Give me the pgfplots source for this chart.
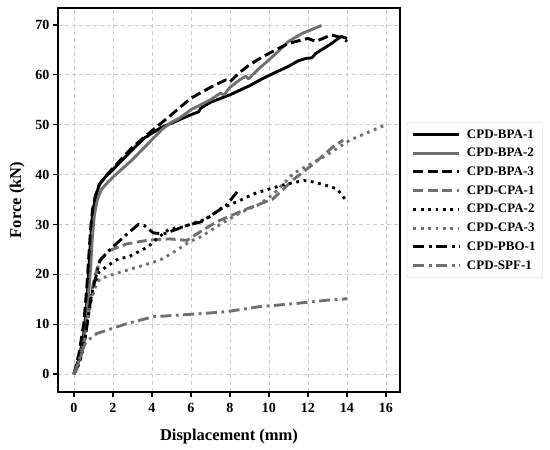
\documentclass[border=0pt]{standalone}
\usepackage{fontspec}
\setmainfont{Liberation Serif}
\usepackage{pgfplots}
\pgfplotsset{compat=1.18}
\definecolor{dgray}{RGB}{112,112,112}
\definecolor{gridc}{RGB}{205,205,205}
\begin{document}
\begin{tikzpicture}
\begin{axis}[
  scale only axis, width=342pt, height=384pt,
  xmin=-0.82, xmax=16.72, ymin=-3.6, ymax=73.4,
  xtick={0,2,...,16}, ytick={0,10,...,70},
  xtick pos=bottom, ytick pos=left, tick align=outside,
  major tick length=5pt,
  every tick/.style={black, line width=1.2pt},
  axis line style={line width=1.6pt},
  grid=major,
  major grid style={gridc, line width=0.8pt, dash pattern=on 4pt off 3pt},
  /pgf/number format/assume math mode=true,
  tick label style={font=\fontsize{14}{16}\selectfont\bfseries},
  xticklabel style={yshift=-3pt},
  label style={font=\fontsize{16.5}{18}\selectfont\bfseries},
  xlabel={Displacement (mm)}, ylabel={Force (kN)},
  xlabel style={yshift=-9pt},
  ylabel style={yshift=4pt},
  legend style={at={(1.02,0.5)}, anchor=west, draw=gridc, rounded corners=2pt,
    font=\fontsize{13}{15}\selectfont\bfseries, row sep=4.6pt, column sep=4pt,
    inner xsep=5pt, inner ysep=5pt},
  legend cell align=left,
  legend image code/.code={\draw[#1] (0pt,0pt) -- (46pt,0pt);},
  lw/.style={line width=2.9pt, line join=round},
]
% CPD-BPA-1
\addplot[black, solid, lw] coordinates {
(0,0)(0.25,3)(0.5,8)(0.65,14)(0.75,20)(0.85,27)(0.95,32)(1.1,35.5)(1.3,38)(1.6,39.5)(2,41)(2.5,43)(3,45)(3.6,47.3)(4,48.3)(4.5,49.5)(5,50.3)(5.4,51)(6,52)(6.4,52.6)(6.5,53.3)(7,54.5)(8,56)(9,57.8)(9.7,59.3)(10.5,60.8)(11,61.7)(11.5,62.8)(11.9,63.3)(12.2,63.4)(12.4,64.3)(13.1,66)(13.7,67.7)(14,67.3)
};
\addlegendentry{CPD-BPA-1}
% CPD-BPA-2
\addplot[dgray, solid, lw] coordinates {
(0,0)(0.3,3)(0.55,8)(0.7,14)(0.85,21)(0.95,28)(1.05,32)(1.2,35)(1.4,37)(1.7,38.3)(2,39.5)(3,43)(4,47)(4.5,49)(5,50.5)(5.4,51.3)(6,53)(7,55)(7.5,56.3)(7.7,56)(8,57.5)(8.5,59)(8.8,59.7)(8.95,59.2)(9.5,61.3)(10,63)(10.5,64.8)(11,66.7)(11.7,68.3)(12.7,69.9)
};
\addlegendentry{CPD-BPA-2}
% CPD-BPA-3
\addplot[black, lw, dash pattern=on 10pt off 4.5pt] coordinates {
(0,0)(0.25,4)(0.5,10)(0.65,17)(0.75,23)(0.85,29)(0.95,33)(1.1,35.8)(1.3,38)(1.6,39.6)(2,41.3)(3,45.5)(4,48.8)(5,52)(5.5,53.7)(6,55.3)(7,57.5)(7.8,59)(8,58.6)(8.5,60.5)(9,62)(9.7,63.7)(10.5,65.3)(11,66.3)(12,67.3)(12.4,66.7)(13.2,68)(13.7,67.5)(14,66.7)
};
\addlegendentry{CPD-BPA-3}
% CPD-CPA-1
\addplot[dgray, lw, dash pattern=on 10pt off 4.5pt] coordinates {
(0,0)(0.3,2.5)(0.56,7)(0.73,11.5)(0.9,16.5)(1.1,20)(1.3,22.5)(1.6,24)(1.85,24.8)(2.7,26.1)(3.9,26.9)(4.9,27.1)(5.8,26.8)(6.46,28.5)(7.3,30.5)(8.85,33.1)(10.2,35.1)(11.25,39)(12.27,42.1)(13.3,45.6)(13.8,46.9)
};
\addlegendentry{CPD-CPA-1}
% CPD-CPA-2
\addplot[black, lw, dash pattern=on 2.8pt off 4.6pt] coordinates {
(0,0)(0.3,2.5)(0.56,7)(0.73,11.5)(0.9,15.5)(1.1,18.5)(1.3,20.5)(1.76,21.8)(2.27,23.1)(2.8,23.5)(3.3,24.5)(3.8,25.5)(4.3,27.3)(4.9,29.1)(5.6,29.5)(6.3,30.5)(6.8,31.1)(7.5,33.1)(8.5,34.8)(9.2,36.1)(10,37.1)(10.9,38.1)(11.8,38.8)(12.3,38.5)(12.96,37.8)(13.5,37.1)(13.9,35.1)
};
\addlegendentry{CPD-CPA-2}
% CPD-CPA-3
\addplot[dgray, lw, dash pattern=on 2.8pt off 4.6pt] coordinates {
(0,0)(0.3,2.5)(0.56,7)(0.73,11.5)(0.9,15)(1.1,17.5)(1.33,19.1)(1.85,19.8)(2.7,20.8)(3.55,21.8)(4.4,22.8)(5.26,24.8)(5.9,26.5)(6.5,27.5)(7.5,30)(8.5,32.3)(9.5,34)(10.2,36)(11.25,40.2)(12.96,43.9)(14.15,46.9)(16,50)
};
\addlegendentry{CPD-CPA-3}
% CPD-PBO-1
\addplot[black, lw, dash pattern=on 11pt off 4.5pt on 2.8pt off 4.5pt] coordinates {
(0,0)(0.3,2.5)(0.56,7)(0.73,11.5)(0.9,16)(1.08,18.8)(1.33,22.8)(1.5,23.5)(1.85,25)(2.7,28)(3.3,30)(3.6,29.8)(4.07,28.3)(4.6,28.1)(5.1,28.8)(5.8,29.8)(6.5,30.5)(7.3,32.5)(7.8,33.8)(8.4,36.7)
};
\addlegendentry{CPD-PBO-1}
% CPD-SPF-1
\addplot[dgray, lw, dash pattern=on 11pt off 4.5pt on 2.8pt off 4.5pt] coordinates {
(0,0)(0.2,2)(0.4,4.5)(0.56,6)(0.73,6.8)(1.16,8.1)(2.7,10.1)(4.07,11.5)(4.9,11.7)(6.46,12.1)(7.8,12.5)(9.5,13.5)(11.25,14.1)(12.96,14.8)(14,15.1)
};
\addlegendentry{CPD-SPF-1}
\end{axis}
\pgfresetboundingbox
\path[use as bounding box] (-58pt,-58pt) rectangle (492pt,392pt);
\end{tikzpicture}
\end{document}
